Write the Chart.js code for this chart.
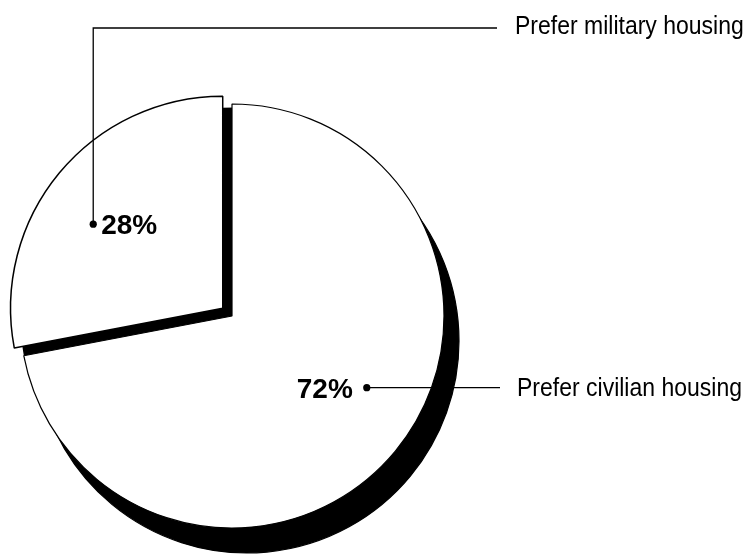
<!DOCTYPE html>
<html>
<head>
<meta charset="utf-8">
<script src="https://cdn.jsdelivr.net/npm/chart.js@4/dist/chart.umd.min.js"></script>
<style>
  html, body { margin: 0; padding: 0; background: #fff; }
  #wrap { width: 747px; height: 554px; }
</style>
</head>
<body>
<div id="wrap"><canvas id="c" width="747" height="554"></canvas></div>
<script>
// ---- data ----
const categories = ['Prefer civilian housing', 'Prefer military housing'];
const shares = [72, 28];
const valueLabels = ['72%', '28%'];

const FONT = '"Liberation Sans", Arial, Helvetica, sans-serif';

// black drop shadow drawn under each slice, using the library's own arc geometry
const shadowOffsets = [[15, 25], [11, 12]];
const shadowPlugin = {
  id: 'shadow',
  beforeDatasetsDraw(chart) {
    const ctx = chart.ctx;
    const meta = chart.getDatasetMeta(0);
    meta.data.forEach((arc, i) => {
      ctx.save();
      ctx.translate(shadowOffsets[i][0], shadowOffsets[i][1]);
      ctx.filter = 'brightness(0)';
      arc.draw(ctx);
      ctx.restore();
    });
  }
};

// leader lines, dots and labels
const labelPlugin = {
  id: 'leaders',
  afterDatasetsDraw(chart) {
    const ctx = chart.ctx;
    const meta = chart.getDatasetMeta(0);
    const anchors = [
      { ang: 28, frac: 0.72 },
      { ang: -146.5, frac: 0.785 }
    ];
    ctx.save();
    ctx.strokeStyle = '#000';
    ctx.fillStyle = '#000';
    ctx.lineWidth = 1.3;
    meta.data.forEach((arc, i) => {
      const a = anchors[i];
      const r = a.ang * Math.PI / 180;
      const dx = arc.x + Math.cos(r) * arc.outerRadius * a.frac;
      const dy = arc.y + Math.sin(r) * arc.outerRadius * a.frac;
      ctx.beginPath();
      ctx.arc(dx, dy, 3.6, 0, Math.PI * 2);
      ctx.fill();
      ctx.beginPath();
      let tx, ty;
      ctx.font = 'bold 28px ' + FONT;
      ctx.textBaseline = 'alphabetic';
      if (i === 0) {
        ctx.moveTo(dx, dy);
        ctx.lineTo(500, dy);
        ctx.stroke();
        tx = 517; ty = dy + 8;
        ctx.textAlign = 'right';
        ctx.fillText(valueLabels[i], dx - 14, dy + 10);
      } else {
        ctx.moveTo(dx, dy);
        ctx.lineTo(dx, 28);
        ctx.lineTo(497, 28);
        ctx.stroke();
        tx = 515; ty = 34;
        ctx.textAlign = 'left';
        ctx.fillText(valueLabels[i], dx + 8, dy + 10);
      }
      ctx.save();
      ctx.translate(tx, ty);
      ctx.scale(0.92, 1);
      ctx.font = '25px ' + FONT;
      ctx.textAlign = 'left';
      ctx.fillText(categories[i], 0, 0);
      ctx.restore();
    });
    ctx.restore();
  }
};

new Chart(document.getElementById('c'), {
  type: 'pie',
  data: {
    labels: categories,
    datasets: [{
      data: shares,
      backgroundColor: '#ffffff',
      borderColor: '#000000',
      borderWidth: [1.2, 1.5],
      offset: [0, 48]
    }]
  },
  options: {
    responsive: false,
    animation: false,
    radius: 212,
    layout: { padding: { left: 0, right: 283, top: 78, bottom: 0 } },
    plugins: {
      legend: { display: false },
      tooltip: { enabled: false }
    },
    events: []
  },
  plugins: [shadowPlugin, labelPlugin]
});
</script>
</body>
</html>
